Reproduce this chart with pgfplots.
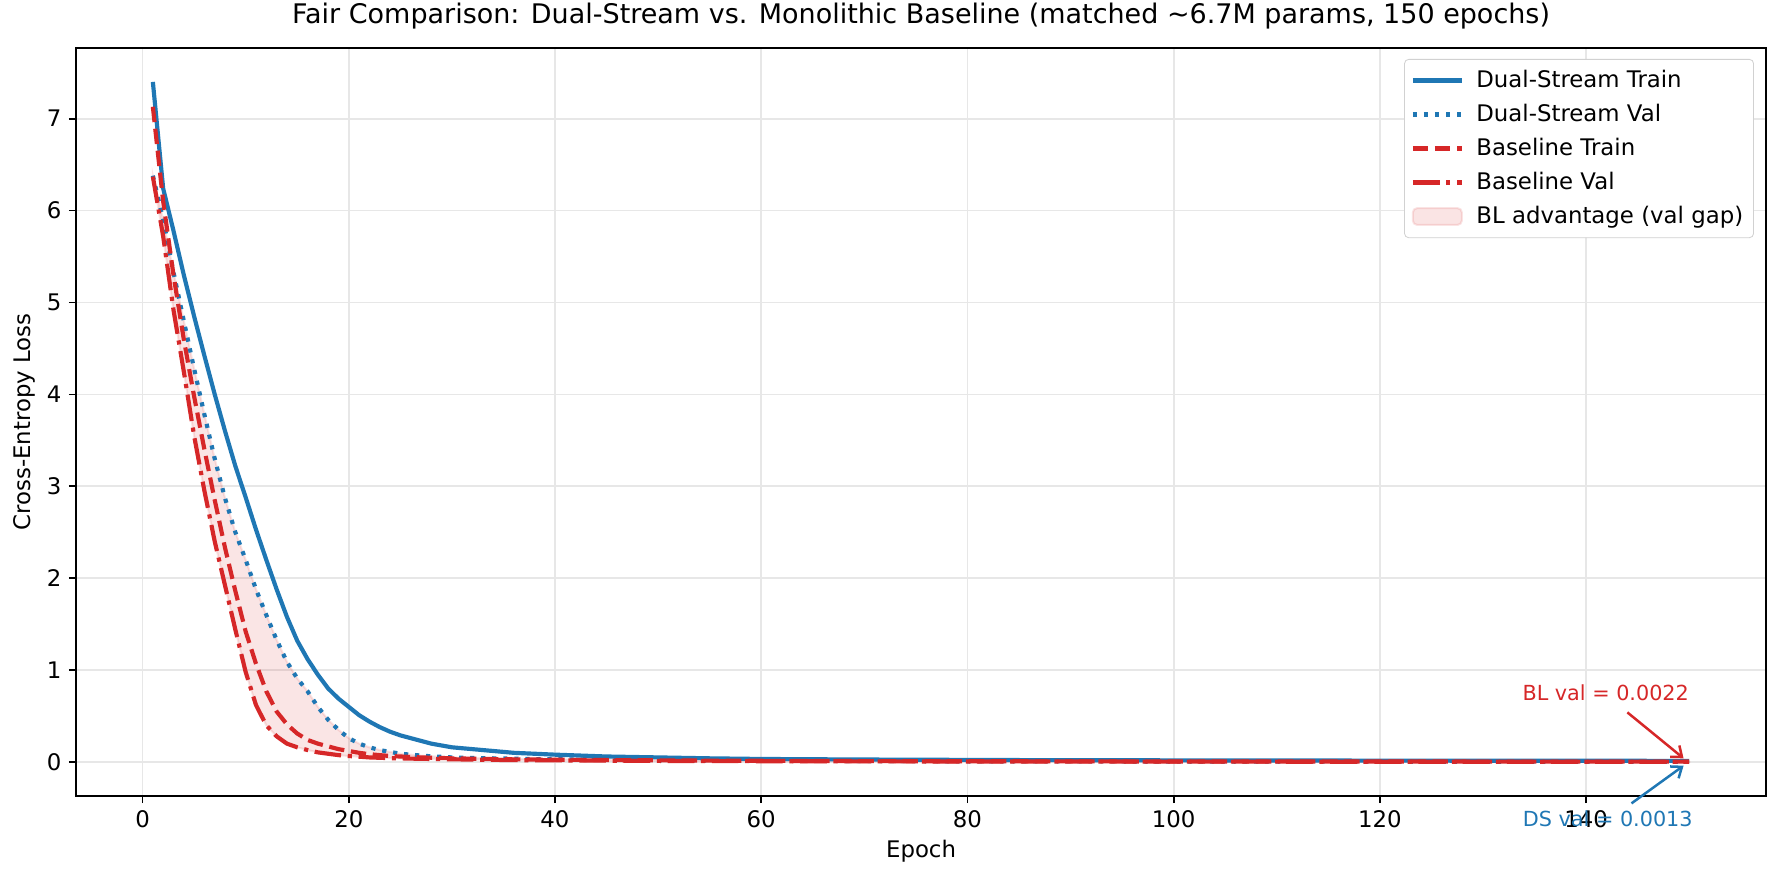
\documentclass[border=0pt]{standalone}
\usepackage{fontspec}
\setmainfont{DejaVu Sans}
\usepackage{pgfplots}
\pgfplotsset{compat=1.18}
\usepackage{pgfplotstable}
\usepgfplotslibrary{fillbetween}
\usetikzlibrary{arrows.meta}
\definecolor{tabblue}{HTML}{1F77B4}
\definecolor{tabred}{HTML}{D62728}
\definecolor{gridc}{HTML}{E7E7E7}
\pgfplotsset{
  myline legend/.style={legend image code/.code={\draw[##1] (0bp,0bp) -- (23.5bp,0bp);}},
  myarea legend/.style={legend image code/.code={\draw[##1] (0bp,-4bp) rectangle (23.5bp,4bp);}},
}

\pgfplotstableread{
ep dstr dsva bltr blva
1 7.40 6.38 7.13 6.37
2 6.24 5.90 6.10 5.72
3 5.78 5.33 5.30 4.92
4 5.30 4.80 4.60 4.25
5 4.85 4.28 3.98 3.55
6 4.42 3.78 3.40 2.95
7 4.00 3.30 2.85 2.40
8 3.60 2.87 2.33 1.92
9 3.22 2.50 1.86 1.44
10 2.88 2.20 1.42 0.98
11 2.53 1.88 1.07 0.62
12 2.20 1.60 0.77 0.40
13 1.88 1.33 0.55 0.28
14 1.58 1.09 0.41 0.20
15 1.32 0.91 0.31 0.16
16 1.12 0.77 0.24 0.13
17 0.95 0.60 0.20 0.105
18 0.80 0.46 0.17 0.09
19 0.69 0.35 0.14 0.075
20 0.60 0.26 0.12 0.065
21 0.51 0.20 0.10 0.058
22 0.44 0.16 0.085 0.050
23 0.38 0.13 0.075 0.046
24 0.33 0.11 0.065 0.042
25 0.29 0.09 0.060 0.040
26 0.26 0.08 0.055 0.037
27 0.23 0.07 0.050 0.035
28 0.20 0.062 0.047 0.033
29 0.18 0.056 0.044 0.031
30 0.16 0.050 0.040 0.030
31 0.15 0.047 0.038 0.028
32 0.14 0.044 0.036 0.027
33 0.13 0.042 0.034 0.025
34 0.12 0.040 0.032 0.024
35 0.11 0.038 0.030 0.022
36 0.10 0.036 0.029 0.021
37 0.095 0.034 0.028 0.020
38 0.09 0.032 0.027 0.019
39 0.085 0.031 0.026 0.0185
40 0.08 0.030 0.025 0.018
45 0.06 0.025 0.021 0.015
50 0.05 0.020 0.018 0.012
55 0.04 0.017 0.015 0.010
60 0.033 0.015 0.013 0.009
65 0.030 0.013 0.011 0.008
70 0.027 0.011 0.010 0.007
75 0.025 0.010 0.009 0.0065
80 0.023 0.008 0.008 0.006
85 0.021 0.0075 0.0075 0.0055
90 0.020 0.007 0.007 0.005
95 0.019 0.0065 0.0065 0.0047
100 0.018 0.006 0.006 0.0044
105 0.017 0.0055 0.0058 0.0041
110 0.016 0.005 0.0055 0.0038
115 0.016 0.0045 0.0052 0.0035
120 0.015 0.004 0.005 0.0033
125 0.015 0.0035 0.0048 0.0031
130 0.014 0.003 0.0046 0.0029
135 0.014 0.0025 0.0044 0.0027
140 0.013 0.002 0.0042 0.0025
145 0.013 0.0016 0.0041 0.0023
150 0.012 0.0013 0.0040 0.0022
}\loss

\begin{document}
\begin{tikzpicture}
\begin{axis}[
  scale only axis,
  width=811.2bp, height=359bp,
  xmin=-6.45, xmax=157.45,
  ymin=-0.368, ymax=7.77,
  xtick={0,20,40,60,80,100,120,140},
  ytick={0,1,2,3,4,5,6,7},
  /pgf/number format/assume math mode=true,
  tick label style={font=\fontsize{11}{13}\selectfont, text=black},
  tick align=outside,
  major tick length=3.5bp,
  tick style={black, line width=0.8bp},
  axis line style={black, line width=0.8bp},
  xtick pos=bottom, ytick pos=left,
  grid=major,
  major grid style={gridc, line width=0.8bp},
  clip=false,
  title={Fair Comparison: Dual-Stream vs. Monolithic Baseline (matched \char"007E 6.7M params, 150 epochs)},
  title style={at={(rel axis cs:0.5,1.016)}, anchor=base, font=\fontsize{13}{16}\selectfont},
  xlabel={Epoch},
  xlabel style={at={(rel axis cs:0.5,-0.083)}, anchor=base, font=\fontsize{11}{13}\selectfont},
  ylabel={Cross-Entropy Loss},
  ylabel style={at={(rel axis cs:-0.0308,0.5)}, anchor=center, font=\fontsize{11}{13}\selectfont},
  legend cell align=left,
  legend style={at={(rel axis cs:1,1)}, anchor=north east, xshift=-5.8bp, yshift=-5.3bp,
    draw=black!18, rounded corners=2bp, fill=white,
    font=\fontsize{11}{13}\selectfont, inner xsep=3bp, inner ysep=2bp,
    column sep=4bp,
    nodes={inner xsep=2bp, inner ysep=3.25bp}},
  myline legend,
  line join=round,
]
\addplot[tabblue, line width=2bp] table[x=ep,y=dstr]{\loss};
\addlegendentry{Dual-Stream Train}
\addplot[tabblue, line width=2bp, dash pattern=on 2bp off 3.3bp, name path=dsval] table[x=ep,y=dsva]{\loss};
\addlegendentry{Dual-Stream Val}
\addplot[tabred, line width=2bp, dash pattern=on 7.4bp off 3.2bp] table[x=ep,y=bltr]{\loss};
\addlegendentry{Baseline Train}
\addplot[tabred, line width=2bp, dash pattern=on 12.8bp off 3.2bp on 2bp off 3.2bp, name path=blval] table[x=ep,y=blva]{\loss};
\addlegendentry{Baseline Val}
\addplot[fill=tabred, fill opacity=0.12, draw=tabred, draw opacity=0.12, line width=1bp, myarea legend] fill between[of=dsval and blval];
\addlegendentry{BL advantage (val gap)}

\node[text=tabred, font=\fontsize{10}{12}\selectfont, anchor=base] at (axis cs:141.9,0.667) {BL val = 0.0022};
\draw[tabred, line width=1.2bp, -{Straight Barb[length=4.5bp,width=7bp]}] (axis cs:144.0,0.54) -- (axis cs:149.45,0.04);
\draw[tabblue, line width=1.2bp, -{Straight Barb[length=4.5bp,width=7bp]}] (axis cs:144.4,-0.45) -- (axis cs:149.45,-0.04);
\node[text=tabblue, font=\fontsize{10}{12}\selectfont, anchor=base] at (axis cs:142.1,-0.70) {DS val = 0.0013};
\end{axis}
\pgfresetboundingbox
\path ([xshift=-36.5bp,yshift=-40.3bp]current axis.south west) rectangle ([xshift=6.7bp,yshift=23bp]current axis.north east);
\end{tikzpicture}
\end{document}
